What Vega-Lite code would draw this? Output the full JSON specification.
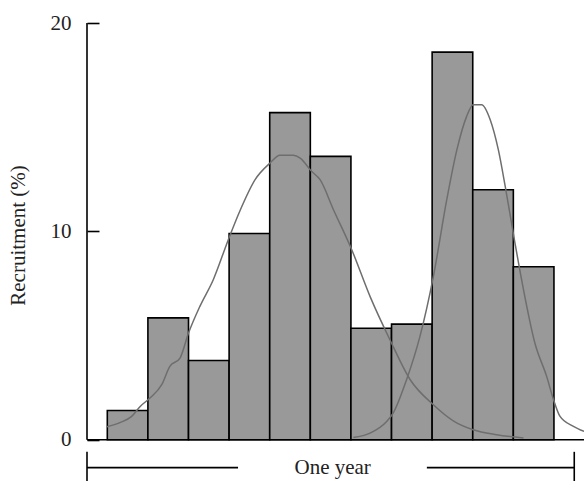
{
  "$schema": "https://vega.github.io/schema/vega-lite/v6.json",
  "width": 497,
  "height": 458,
  "autosize": {"type": "none"},
  "padding": {"left": 87, "top": 23, "right": 0, "bottom": 0},
  "config": {
    "view": {"stroke": null},
    "font": "Liberation Serif",
    "text": {"font": "Liberation Serif"}
  },
  "datasets": {
    "bars": [
      {"start": 0.5, "end": 1.5, "pct": 1.4},
      {"start": 1.5, "end": 2.5, "pct": 5.85},
      {"start": 2.5, "end": 3.5, "pct": 3.8},
      {"start": 3.5, "end": 4.5, "pct": 9.9},
      {"start": 4.5, "end": 5.5, "pct": 15.7},
      {"start": 5.5, "end": 6.5, "pct": 13.6},
      {"start": 6.5, "end": 7.5, "pct": 5.35},
      {"start": 7.5, "end": 8.5, "pct": 5.55},
      {"start": 8.5, "end": 9.5, "pct": 18.6},
      {"start": 9.5, "end": 10.5, "pct": 12.0},
      {"start": 10.5, "end": 11.5, "pct": 8.3}
    ],
    "curves": [
      {"series": "a", "t": 0.49, "v": 0.62},
      {"series": "a", "t": 0.81, "v": 0.82},
      {"series": "a", "t": 1.10, "v": 1.12},
      {"series": "a", "t": 1.31, "v": 1.6},
      {"series": "a", "t": 1.55, "v": 2.0},
      {"series": "a", "t": 1.84, "v": 2.64},
      {"series": "a", "t": 2.04, "v": 3.52},
      {"series": "a", "t": 2.29, "v": 3.92},
      {"series": "a", "t": 2.50, "v": 5.12},
      {"series": "a", "t": 2.78, "v": 6.4},
      {"series": "a", "t": 3.11, "v": 7.68},
      {"series": "a", "t": 3.48, "v": 9.6},
      {"series": "a", "t": 3.77, "v": 11.0},
      {"series": "a", "t": 4.14, "v": 12.48},
      {"series": "a", "t": 4.51, "v": 13.28},
      {"series": "a", "t": 4.75, "v": 13.65},
      {"series": "a", "t": 5.08, "v": 13.65},
      {"series": "a", "t": 5.25, "v": 13.52},
      {"series": "a", "t": 5.53, "v": 12.88},
      {"series": "a", "t": 5.74, "v": 12.48},
      {"series": "a", "t": 6.07, "v": 11.04},
      {"series": "a", "t": 6.52, "v": 9.12},
      {"series": "a", "t": 6.97, "v": 6.88},
      {"series": "a", "t": 7.46, "v": 4.8},
      {"series": "a", "t": 7.96, "v": 2.88},
      {"series": "a", "t": 8.53, "v": 1.68},
      {"series": "a", "t": 9.02, "v": 0.91},
      {"series": "a", "t": 9.51, "v": 0.48},
      {"series": "a", "t": 10.09, "v": 0.24},
      {"series": "a", "t": 10.75, "v": 0.08},
      {"series": "b", "t": 6.56, "v": 0.11},
      {"series": "b", "t": 6.97, "v": 0.32},
      {"series": "b", "t": 7.38, "v": 0.88},
      {"series": "b", "t": 7.54, "v": 1.28},
      {"series": "b", "t": 7.87, "v": 2.88},
      {"series": "b", "t": 8.20, "v": 4.96},
      {"series": "b", "t": 8.53, "v": 7.83},
      {"series": "b", "t": 8.86, "v": 11.52},
      {"series": "b", "t": 9.11, "v": 13.92},
      {"series": "b", "t": 9.35, "v": 15.52},
      {"series": "b", "t": 9.51, "v": 16.08},
      {"series": "b", "t": 9.72, "v": 16.08},
      {"series": "b", "t": 9.93, "v": 15.36},
      {"series": "b", "t": 10.13, "v": 13.92},
      {"series": "b", "t": 10.30, "v": 12.16},
      {"series": "b", "t": 10.54, "v": 9.44},
      {"series": "b", "t": 10.75, "v": 7.2},
      {"series": "b", "t": 11.03, "v": 4.64},
      {"series": "b", "t": 11.32, "v": 3.04},
      {"series": "b", "t": 11.49, "v": 1.92},
      {"series": "b", "t": 11.65, "v": 1.12},
      {"series": "b", "t": 11.98, "v": 0.64},
      {"series": "b", "t": 12.24, "v": 0.4}
    ],
    "bracket": [
      {"a": 0, "b": 3.72, "lo": -1.34, "hi": -1.34},
      {"a": 8.37, "b": 12, "lo": -1.34, "hi": -1.34},
      {"a": 0, "b": 0, "lo": -0.58, "hi": -1.98},
      {"a": 12, "b": 12, "lo": -0.58, "hi": -1.98}
    ],
    "label": [{"t": 6.05, "v": -1.34, "text": "One year"}]
  },
  "layer": [
    {
      "data": {"name": "bars"},
      "mark": {"type": "rect", "fill": "#999999", "stroke": "#000000", "strokeWidth": 1.6},
      "encoding": {
        "x": {"field": "start", "type": "quantitative", "scale": {"domain": [0, 12.24], "nice": false, "zero": false}, "axis": null},
        "x2": {"field": "end"},
        "y": {"field": "pct", "type": "quantitative", "scale": {"domain": [-1.98, 20], "nice": false, "zero": false},
          "axis": {
            "values": [0, 10, 20],
            "domain": false,
            "grid": false,
            "tickSize": -12,
            "tickWidth": 1.6,
            "tickColor": "#000000",
            "labelFont": "Liberation Serif",
            "labelFontSize": 21,
            "labelColor": "#222222",
            "labelPadding": 28,
            "title": "Recruitment (%)",
            "titleFont": "Liberation Serif",
            "titleFontSize": 21,
            "titleFontWeight": "normal",
            "titleColor": "#222222",
            "titleX": -69,
            "titleY": 212,
            "titleBaseline": "middle"
          }
        },
        "y2": {"datum": 0}
      }
    },
    {
      "data": {"name": "curves"},
      "mark": {"type": "line", "color": "#6e6e6e", "strokeWidth": 1.5, "clip": true, "interpolate": "monotone"},
      "encoding": {
        "x": {"field": "t", "type": "quantitative"},
        "y": {"field": "v", "type": "quantitative"},
        "detail": {"field": "series"}
      }
    },
    {
      "data": {"values": [{}]},
      "mark": {"type": "rule", "color": "#000000", "strokeWidth": 1.6},
      "encoding": {
        "x": {"datum": 0},
        "y": {"datum": 0},
        "y2": {"datum": 20}
      }
    },
    {
      "data": {"values": [{}]},
      "mark": {"type": "rule", "color": "#000000", "strokeWidth": 1.6},
      "encoding": {
        "y": {"datum": 0},
        "x": {"datum": 0},
        "x2": {"datum": 12.24}
      }
    },
    {
      "data": {"name": "bracket"},
      "mark": {"type": "rule", "color": "#000000", "strokeWidth": 1.6},
      "encoding": {
        "x": {"field": "a", "type": "quantitative"},
        "x2": {"field": "b"},
        "y": {"field": "lo", "type": "quantitative"},
        "y2": {"field": "hi"}
      }
    },
    {
      "data": {"name": "label"},
      "mark": {"type": "text", "font": "Liberation Serif", "fontSize": 21, "color": "#222222", "align": "center", "baseline": "middle"},
      "encoding": {
        "x": {"field": "t", "type": "quantitative"},
        "y": {"field": "v", "type": "quantitative"},
        "text": {"field": "text"}
      }
    }
  ]
}
